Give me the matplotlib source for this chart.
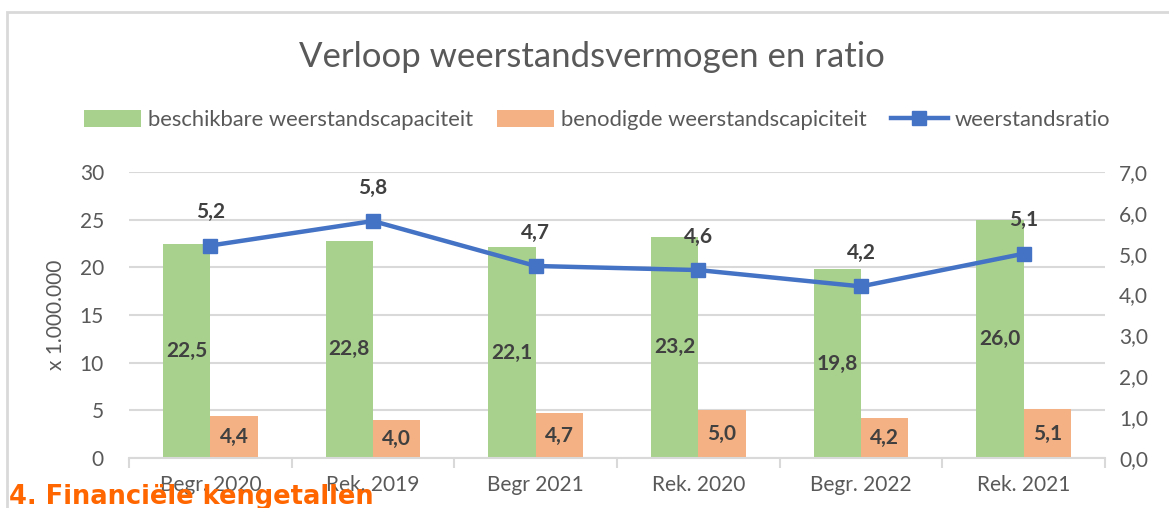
import matplotlib

matplotlib.use("Agg")
import matplotlib.pyplot as plt
import numpy as np
from matplotlib.patches import Rectangle

plt.rcParams["font.family"] = ["Lato", "DejaVu Sans"]

# chart data
categories = ["Begr. 2020", "Rek. 2019", "Begr 2021", "Rek. 2020", "Begr. 2022", "Rek. 2021"]
beschikbaar = [22.5, 22.8, 22.1, 23.2, 19.8, 25.0]
beschikbaar_labels = ["22,5", "22,8", "22,1", "23,2", "19,8", "26,0"]
benodigd = [4.4, 4.0, 4.7, 5.0, 4.2, 5.1]
benodigd_labels = ["4,4", "4,0", "4,7", "5,0", "4,2", "5,1"]
ratio = [5.2, 5.8, 4.7, 4.6, 4.2, 5.0]
ratio_labels = ["5,2", "5,8", "4,7", "4,6", "4,2", "5,1"]
left_ticks = [0, 5, 10, 15, 20, 25, 30]
right_ticks = [0, 1, 2, 3, 4, 5, 6, 7]

GREEN = "#A9D18E"
ORANGE = "#F4B183"
BLUE = "#4472C4"
GRID = "#D9D9D9"
TEXT = "#595959"
LABEL = "#404040"

W, H = 1169, 508
fig = plt.figure(figsize=(W / 100, H / 100), dpi=100)

# chart frame, runs off the right and bottom edge
fig.patches.append(
    Rectangle((7 / W, -0.1), 1.2, 1 - 12 / H + 0.1, transform=fig.transFigure,
              fill=False, edgecolor="#D9D9D9", linewidth=2, zorder=0)
)

ax = fig.add_axes([129 / W, 50 / H, (1105 - 129) / W, (458 - 172) / H])
ax2 = ax.twinx()

x = np.arange(len(categories))
bw = 0.29
b1 = ax.bar(x - bw / 2, beschikbaar, bw, color=GREEN, zorder=2,
            label="beschikbare weerstandscapaciteit")
b2 = ax.bar(x + bw / 2, benodigd, bw, color=ORANGE, zorder=2,
            label="benodigde weerstandscapiciteit")

for xi, v, lab in zip(x, beschikbaar, beschikbaar_labels):
    ax.text(xi - bw / 2, v / 2, lab, ha="center", va="center",
            fontsize=15, fontweight="bold", color=LABEL, zorder=3)
for xi, v, lab in zip(x, benodigd, benodigd_labels):
    ax.text(xi + bw / 2, v / 2, lab, ha="center", va="center",
            fontsize=15, fontweight="bold", color=LABEL, zorder=3)

ax.set_ylim(0, 30)
ax.set_xlim(-0.5, len(categories) - 0.5)
ax.set_yticks(left_ticks)
ax.set_yticklabels([str(t) for t in left_ticks])
ax.yaxis.grid(True, color=GRID, linewidth=1.5, zorder=0)
ax.set_axisbelow(True)
ax.set_ylabel("x 1.000.000", fontsize=15, color=TEXT, labelpad=10)

ax.set_xticks(x)
ax.set_xticklabels(categories)
ax.set_xticks(np.arange(len(categories) + 1) - 0.5, minor=True)
ax.tick_params(axis="x", which="major", length=0, pad=12, labelsize=15, labelcolor=TEXT)
ax.tick_params(axis="x", which="minor", length=7, color=GRID, width=1.5)
ax.tick_params(axis="y", length=0, pad=18, labelsize=15, labelcolor=TEXT)

for s in ["top", "right", "left"]:
    ax.spines[s].set_visible(False)
ax.spines["bottom"].set_color(GRID)
ax.spines["bottom"].set_linewidth(1.5)

ln, = ax2.plot(x, ratio, color=BLUE, linewidth=3.2, marker="s", markersize=10,
               zorder=4, label="weerstandsratio")
for xi, v, lab in zip(x, ratio, ratio_labels):
    ax2.annotate(lab, (xi, v), xytext=(0, 24), textcoords="offset points",
                 ha="center", va="center", fontsize=15, fontweight="bold", color=LABEL)
ax2.set_ylim(0, 7)
ax2.set_yticks(right_ticks)
ax2.set_yticklabels([f"{t:.1f}".replace(".", ",") for t in right_ticks])
ax2.tick_params(axis="y", length=0, pad=10, labelsize=15, labelcolor=TEXT)
for s in ax2.spines.values():
    s.set_visible(False)

fig.text(592 / W, 1 - 57 / H, "Verloop weerstandsvermogen en ratio",
         ha="center", va="center", fontsize=25, color=TEXT)

fig.legend(handles=[b1, b2, ln], loc="center", bbox_to_anchor=(597 / W, 1 - 120 / H),
           ncol=3, frameon=False, fontsize=15.8, labelcolor=TEXT, handlelength=2.6,
           handleheight=0.8, handletextpad=0.3, columnspacing=1.1)

fig.text(9 / W, 1 - 484 / H, "4. Financiële kengetallen", ha="left", va="top",
         fontsize=18.5, fontweight="heavy", color="#FF6600", family=["DejaVu Sans"])

fig.savefig("out.png", dpi=100)
